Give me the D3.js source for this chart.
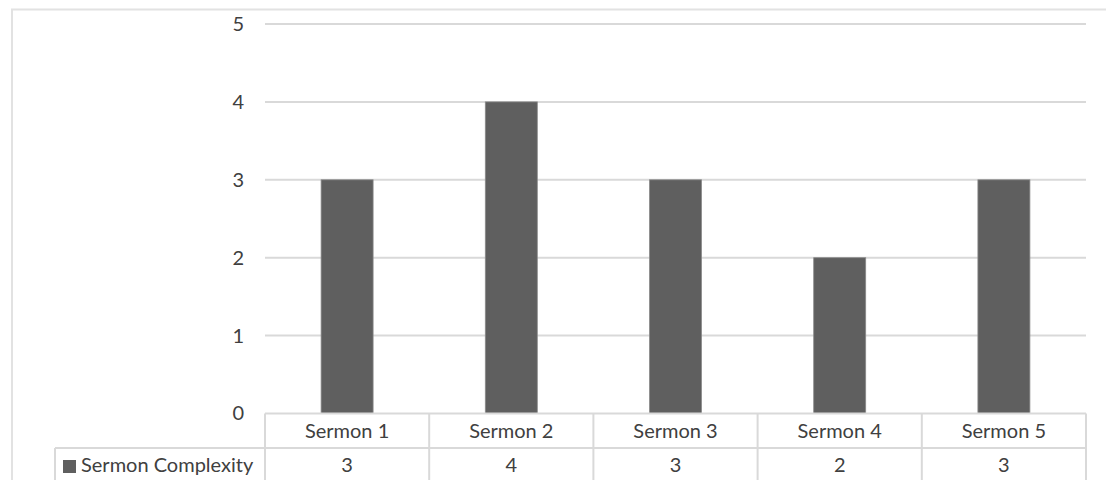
<!DOCTYPE html>
<html>
<head>
<meta charset="utf-8">
<script src="https://cdn.jsdelivr.net/npm/d3@7"></script>
<style>
  html, body { margin: 0; padding: 0; background: #fff; }
  svg { display: block; }
  text { font-family: Lato, "Open Sans", sans-serif; fill: #404040; }
</style>
</head>
<body>
<svg id="chart" width="1106" height="480"></svg>
<script>
// Chart data
const categories = ["Sermon 1", "Sermon 2", "Sermon 3", "Sermon 4", "Sermon 5"];
const seriesName = "Sermon Complexity";
const values = [3, 4, 3, 2, 3];
const yTicks = [0, 1, 2, 3, 4, 5];

const svg = d3.select("#chart");
const W = 1106, H = 480;
const FS = 20;

// Plot area
const plot = { left: 265, right: 1086, top: 24, bottom: 413.5 };

const x = d3.scaleBand().domain(categories).range([plot.left, plot.right]).paddingInner(0).paddingOuter(0);
const y = d3.scaleLinear().domain([0, 5]).range([plot.bottom, plot.top]);

// Outer chart frame
svg.append("path")
  .attr("d", `M12,${H + 5} L12,9.5 L${W + 5},9.5`)
  .attr("fill", "none").attr("stroke", "#e2e2e2").attr("stroke-width", 2);

// Gridlines
svg.append("g").selectAll("line").data(yTicks.filter(d => d > 0)).join("line")
  .attr("x1", plot.left).attr("x2", plot.right)
  .attr("y1", d => y(d)).attr("y2", d => y(d))
  .attr("stroke", "#d9d9d9").attr("stroke-width", 2);

// Y axis labels
const yAxis = d3.axisLeft(y).tickValues(yTicks).tickSize(0).tickPadding(0).tickFormat(d3.format("d"));
const gy = svg.append("g").attr("transform", `translate(244,0)`).call(yAxis);
gy.select(".domain").remove();
gy.selectAll("text").attr("font-size", FS).attr("fill", "#404040")
  .style("font-family", "Lato, 'Open Sans', sans-serif");

// Bars
const barW = 52;
svg.append("g").selectAll("rect").data(values).join("rect")
  .attr("x", (d, i) => x(categories[i]) + x.bandwidth() / 2 - barW / 2)
  .attr("y", d => y(d))
  .attr("width", barW)
  .attr("height", d => y(0) - y(d))
  .attr("fill", "#5f5f5f")
  .attr("stroke", "#8a8a8a").attr("stroke-width", 0.8);

// Data table
const rowTop = plot.bottom, rowMid = 448, rowBot = 484;
const legendLeft = 55;
const tbl = svg.append("g").attr("fill", "none").attr("stroke", "#d9d9d9").attr("stroke-width", 2);
tbl.append("line").attr("x1", plot.left).attr("x2", plot.right).attr("y1", rowTop).attr("y2", rowTop);
tbl.append("line").attr("x1", legendLeft).attr("x2", plot.right).attr("y1", rowMid).attr("y2", rowMid);
tbl.append("line").attr("x1", legendLeft).attr("x2", legendLeft).attr("y1", rowMid).attr("y2", rowBot);
const bounds = categories.map(c => x(c)).concat([plot.right]);
tbl.selectAll("line.col").data(bounds).join("line").attr("class", "col")
  .attr("x1", d => d).attr("x2", d => d).attr("y1", rowTop).attr("y2", rowBot);

// Category headers
svg.append("g").selectAll("text").data(categories).join("text")
  .attr("x", d => x(d) + x.bandwidth() / 2)
  .attr("y", (rowTop + rowMid) / 2)
  .attr("dy", "0.35em").attr("text-anchor", "middle").attr("font-size", FS)
  .text(d => d);

// Value row
svg.append("g").selectAll("text").data(values).join("text")
  .attr("x", (d, i) => x(categories[i]) + x.bandwidth() / 2)
  .attr("y", rowMid + 17)
  .attr("dy", "0.35em").attr("text-anchor", "middle").attr("font-size", FS)
  .text(d => d);

// Legend key in table
svg.append("rect").attr("x", 63).attr("y", 460).attr("width", 13).attr("height", 13).attr("fill", "#5f5f5f");
svg.append("text").attr("x", 81).attr("y", rowMid + 17).attr("dy", "0.35em")
  .attr("font-size", FS).text(seriesName);
</script>
</body>
</html>
